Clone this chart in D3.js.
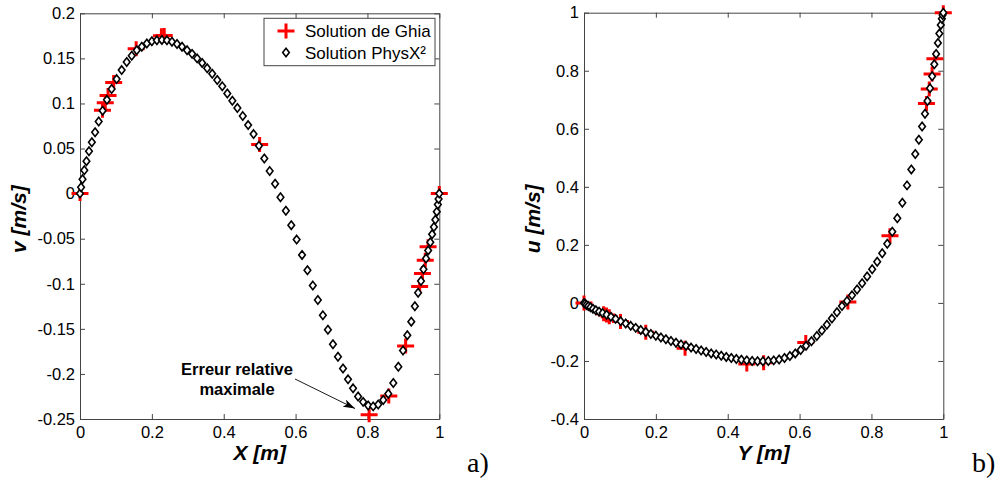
<!DOCTYPE html>
<html>
<head>
<meta charset="utf-8">
<script src="https://cdn.jsdelivr.net/npm/d3@7"></script>
<style>
  html, body { margin: 0; padding: 0; background: #fff; }
  svg { display: block; }
  text { font-family: "Liberation Sans", Arial, sans-serif; fill: #000; }
</style>
</head>
<body>
<svg id="chart" width="997" height="479"></svg>
<script>
// ---------------- DATA ----------------
// Ghia et al. reference solution (horizontal centreline: v vs X)
const ghiaX = [1.0000, 0.9688, 0.9609, 0.9531, 0.9453, 0.9063, 0.8594, 0.8047, 0.5000, 0.2344, 0.2266, 0.1563, 0.0938, 0.0781, 0.0703, 0.0625, 0.0000];
const ghiaV = [0, -0.05906, -0.07391, -0.08864, -0.10313, -0.16914, -0.22445, -0.24533, 0.05454, 0.17527, 0.17507, 0.16077, 0.12317, 0.10890, 0.10091, 0.09233, 0];
// Ghia et al. reference solution (vertical centreline: u vs Y)
const ghiaY = [1.0000, 0.9766, 0.9688, 0.9609, 0.9531, 0.8516, 0.7344, 0.6172, 0.5000, 0.4531, 0.2813, 0.1719, 0.1016, 0.0703, 0.0625, 0.0547, 0.0000];
const ghiaU = [1, 0.84123, 0.78871, 0.73722, 0.68717, 0.23151, 0.00332, -0.13641, -0.20581, -0.21090, -0.15662, -0.10150, -0.06434, -0.04775, -0.04192, -0.03717, 0];

// PhysX² solution: mesh node positions (same for both profiles)
const meshPos = [0, 0.003, 0.007, 0.012, 0.018, 0.025, 0.033, 0.042, 0.052, 0.063, 0.075, 0.088,
  0.102, 0.116, 0.130, 0.144, 0.158, 0.172, 0.186, 0.200, 0.214, 0.228, 0.242, 0.256, 0.270, 0.284, 0.298, 0.312, 0.326, 0.340, 0.354, 0.368, 0.382, 0.396, 0.410, 0.424, 0.438,
  0.453, 0.468, 0.483, 0.498, 0.513, 0.528, 0.543, 0.558, 0.573, 0.588, 0.603, 0.618, 0.633, 0.648,
  0.662, 0.676, 0.690, 0.704, 0.718, 0.732, 0.746, 0.760, 0.774, 0.788, 0.802, 0.816, 0.830, 0.844, 0.858, 0.872,
  0.886, 0.899, 0.911, 0.922, 0.932, 0.941, 0.949, 0.956, 0.963, 0.969, 0.975, 0.980, 0.985, 0.989, 0.993, 0.996, 0.998, 1.0];
const physxV = [0, 0.007, 0.016, 0.026, 0.036, 0.047, 0.057, 0.068, 0.080, 0.092, 0.104, 0.116,
  0.127, 0.137, 0.146, 0.153, 0.159, 0.163, 0.1665, 0.169, 0.170, 0.1705, 0.170, 0.1685, 0.166, 0.163, 0.159, 0.155, 0.150, 0.145, 0.139, 0.133, 0.126, 0.119, 0.111, 0.103, 0.095,
  0.086, 0.076, 0.066, 0.053, 0.039, 0.025, 0.011, -0.004, -0.019, -0.035, -0.051, -0.068, -0.085, -0.102,
  -0.118, -0.135, -0.151, -0.167, -0.181, -0.194, -0.206, -0.216, -0.225, -0.231, -0.235, -0.236, -0.234, -0.229, -0.222, -0.210,
  -0.192, -0.174, -0.157, -0.142, -0.125, -0.110, -0.097, -0.084, -0.072, -0.063, -0.054, -0.045, -0.037, -0.029, -0.020, -0.012, -0.006, 0];
const physxU = [0, -0.003, -0.007, -0.011, -0.015, -0.020, -0.025, -0.030, -0.035, -0.041, -0.048, -0.055,
  -0.063, -0.071, -0.079, -0.086, -0.093, -0.100, -0.107, -0.113, -0.119, -0.125, -0.131, -0.137, -0.143, -0.148, -0.154, -0.159, -0.164, -0.169, -0.174, -0.178, -0.182, -0.186, -0.190, -0.193, -0.196,
  -0.198, -0.200, -0.201, -0.201, -0.200, -0.198, -0.195, -0.190, -0.183, -0.174, -0.162, -0.148, -0.132, -0.114,
  -0.095, -0.075, -0.054, -0.032, -0.011, 0.007, 0.026, 0.046, 0.068, 0.091, 0.116, 0.142, 0.171, 0.204, 0.245, 0.292,
  0.345, 0.405, 0.460, 0.513, 0.562, 0.608, 0.652, 0.696, 0.740, 0.781, 0.822, 0.858, 0.896, 0.928, 0.958, 0.979, 0.992, 1.0];

// Tick values / labels
const xTicks = [0, 0.2, 0.4, 0.6, 0.8, 1];
const xTickLabels = ["0", "0.2", "0.4", "0.6", "0.8", "1"];
const vTicks = [0.2, 0.15, 0.1, 0.05, 0, -0.05, -0.1, -0.15, -0.2, -0.25];
const vTickLabels = ["0.2", "0.15", "0.1", "0.05", "0", "-0.05", "-0.1", "-0.15", "-0.2", "-0.25"];
const uTicks = [1, 0.8, 0.6, 0.4, 0.2, 0, -0.2, -0.4];
const uTickLabels = ["1", "0.8", "0.6", "0.4", "0.2", "0", "-0.2", "-0.4"];

const legendLabels = ["Solution de Ghia", "Solution PhysX\u00B2"];
const annotationLines = ["Erreur relative", "maximale"];

// ---------------- DRAWING ----------------
const svg = d3.select("#chart");
const BOX = "#444";
const SANS = "'Liberation Sans', Arial, sans-serif";
const plusPath = "M-8.5,0H8.5M0,-7.5V7.5";
const diamondPath = "M0,-4.2L3.3,0L0,4.2L-3.3,0Z";

function fmt(ticks, labels) {
  return d => labels[ticks.indexOf(d)];
}

function panel(cfg) {
  const x = d3.scaleLinear().domain([0, 1]).range([cfg.left, cfg.right]);
  const y = d3.scaleLinear().domain(cfg.yDomain).range([cfg.bottom, cfg.top]);
  const g = svg.append("g");

  g.append("rect").attr("x", cfg.left).attr("y", cfg.top)
    .attr("width", cfg.right - cfg.left).attr("height", cfg.bottom - cfg.top)
    .attr("fill", "#fff");

  const styleAxis = sel => {
    sel.attr("font-family", SANS);
    sel.selectAll("path.domain").attr("stroke", BOX).attr("stroke-width", 1);
    sel.selectAll(".tick line").attr("stroke", BOX).attr("stroke-width", 1);
    sel.selectAll(".tick text").attr("font-size", 16.5).attr("fill", "#000");
  };

  g.append("g").attr("transform", `translate(0,${cfg.bottom})`)
    .call(d3.axisBottom(x).tickValues(xTicks).tickFormat(fmt(xTicks, xTickLabels)).tickSize(-5).tickSizeOuter(0).tickPadding(7))
    .call(styleAxis);
  g.append("g").attr("transform", `translate(0,${cfg.top})`)
    .call(d3.axisTop(x).tickValues(xTicks).tickFormat("").tickSize(-5).tickSizeOuter(0))
    .call(styleAxis);
  g.append("g").attr("transform", `translate(${cfg.left},0)`)
    .call(d3.axisLeft(y).tickValues(cfg.yTicks).tickFormat(fmt(cfg.yTicks, cfg.yTickLabels)).tickSize(-5).tickSizeOuter(0).tickPadding(5))
    .call(styleAxis);
  g.append("g").attr("transform", `translate(${cfg.right},0)`)
    .call(d3.axisRight(y).tickValues(cfg.yTicks).tickFormat("").tickSize(-5).tickSizeOuter(0))
    .call(styleAxis);

  // Ghia crosses
  g.append("g").selectAll("path").data(cfg.gx.map((d, i) => [d, cfg.gy[i]])).join("path")
    .attr("d", plusPath)
    .attr("transform", d => `translate(${x(d[0])},${y(d[1])})`)
    .attr("stroke", "#ff0000").attr("stroke-width", 3).attr("fill", "none");

  // PhysX diamonds
  g.append("g").selectAll("path").data(meshPos.map((d, i) => [d, cfg.py[i]])).join("path")
    .attr("d", diamondPath)
    .attr("transform", d => `translate(${x(d[0])},${y(d[1])})`)
    .attr("stroke", "#000").attr("stroke-width", 1.6).attr("fill", "#fff");

  // axis labels
  g.append("text").attr("x", (cfg.left + cfg.right) / 2).attr("y", 460)
    .attr("text-anchor", "middle").attr("font-size", 21).attr("font-weight", "bold").attr("font-style", "italic")
    .text(cfg.xLabel);
  g.append("text")
    .attr("transform", `translate(${cfg.yLabelX},${(cfg.top + cfg.bottom) / 2 + 3}) rotate(-90)`)
    .attr("text-anchor", "middle").attr("font-size", 21).attr("font-weight", "bold").attr("font-style", "italic")
    .text(cfg.yLabel);

  // panel tag
  svg.append("text").attr("x", cfg.tagX).attr("y", 471.5)
    .style("font-family", "'Liberation Serif', 'DejaVu Serif', serif")
    .attr("font-size", 28).text(cfg.tag);

  return { x, y, g };
}

const left = panel({
  left: 80, right: 439.3, top: 13.3, bottom: 419,
  yDomain: [-0.25, 0.2], yTicks: vTicks, yTickLabels: vTickLabels,
  gx: ghiaX, gy: ghiaV, py: physxV,
  xLabel: "X [m]", yLabel: "v [m/s]", yLabelX: 26,
  tag: "a)", tagX: 467
});

const right = panel({
  left: 584, right: 943.3, top: 12.7, bottom: 419,
  yDomain: [-0.4, 1], yTicks: uTicks, yTickLabels: uTickLabels,
  gx: ghiaY, gy: ghiaU, py: physxU,
  xLabel: "Y [m]", yLabel: "u [m/s]", yLabelX: 540,
  tag: "b)", tagX: 972
});

// Legend (left panel)
const lg = svg.append("g");
lg.append("rect").attr("x", 264).attr("y", 18.3).attr("width", 171).attr("height", 47.4)
  .attr("fill", "#fff").attr("stroke", BOX).attr("stroke-width", 1);
lg.append("path").attr("d", plusPath).attr("transform", "translate(286,31)")
  .attr("stroke", "#ff0000").attr("stroke-width", 3).attr("fill", "none");
lg.append("path").attr("d", diamondPath).attr("transform", "translate(286,52.5)")
  .attr("stroke", "#000").attr("stroke-width", 1.6).attr("fill", "#fff");
lg.selectAll("text.lab").data(legendLabels).join("text").attr("class", "lab")
  .attr("x", 305).attr("y", (d, i) => 37 + i * 22.3)
  .attr("font-size", 17).text(d => d);

// Annotation
const defs = svg.append("defs");
defs.append("marker").attr("id", "arrow").attr("viewBox", "0 0 12 8")
  .attr("refX", 12).attr("refY", 4).attr("markerWidth", 12).attr("markerHeight", 8)
  .attr("markerUnits", "userSpaceOnUse").attr("orient", "auto")
  .append("path").attr("d", "M0,0L12,4L0,8L3,4Z").attr("fill", "#000");
const ann = svg.append("g");
ann.selectAll("text").data(annotationLines).join("text")
  .attr("x", 237).attr("y", (d, i) => 375 + i * 19.5)
  .attr("text-anchor", "middle").attr("font-size", 16.5).attr("font-weight", "bold")
  .text(d => d);
ann.append("line")
  .attr("x1", 295).attr("y1", 379)
  .attr("x2", 355).attr("y2", 408.5)
  .attr("stroke", "#000").attr("stroke-width", 0.9).attr("marker-end", "url(#arrow)");
</script>
</body>
</html>
